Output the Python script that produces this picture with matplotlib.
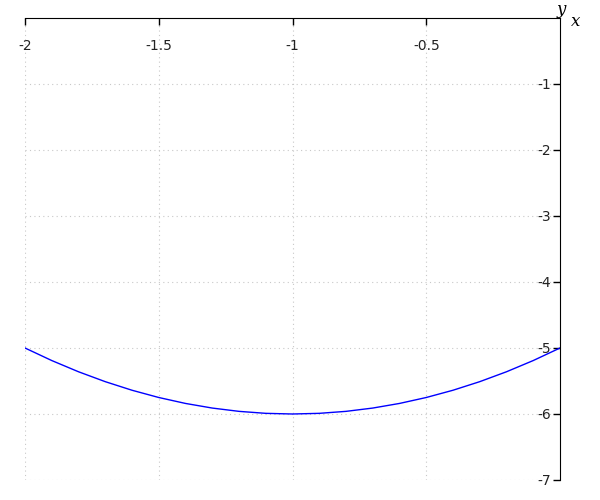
import matplotlib
matplotlib.use("Agg")
import matplotlib.pyplot as plt

xs = [-2.0, -1.9, -1.8, -1.7, -1.6, -1.5, -1.4, -1.3, -1.2, -1.1, -1.0,
      -0.9, -0.8, -0.7, -0.6, -0.5, -0.4, -0.3, -0.2, -0.1, 0.0]
ys = [-5.00, -5.19, -5.36, -5.51, -5.64, -5.75, -5.84, -5.91, -5.96, -5.99, -6.00,
      -5.99, -5.96, -5.91, -5.84, -5.75, -5.64, -5.51, -5.36, -5.19, -5.00]

xticks = [-2, -1.5, -1, -0.5]
xtick_labels = ["-2", "-1.5", "-1", "-0.5"]
yticks = [-1, -2, -3, -4, -5, -6, -7]
ytick_labels = ["-1", "-2", "-3", "-4", "-5", "-6", "-7"]

fig = plt.figure(figsize=(6, 5), dpi=100)
ax = fig.add_axes([25 / 600, 20 / 500, 535 / 600, 462 / 500])

ax.plot(xs, ys, color="blue", lw=1)
ax.set_xlim(-2, 0)
ax.set_ylim(-7, 0)

ax.spines["left"].set_visible(False)
ax.spines["bottom"].set_visible(False)
ax.spines["top"].set_color("black")
ax.spines["right"].set_color("black")

ax.xaxis.tick_top()
ax.yaxis.tick_right()
ax.set_xticks(xticks)
ax.set_xticklabels(xtick_labels)
ax.set_yticks(yticks)
ax.set_yticklabels(ytick_labels)
ax.tick_params(axis="x", direction="in", length=5, width=1, pad=-25.5,
               labelsize=10, colors="black", labelcolor="#222222")
ax.tick_params(axis="y", direction="in", length=5, width=1, pad=-6.5,
               labelsize=10, colors="black", labelcolor="#222222")
for lab in ax.get_yticklabels():
    lab.set_horizontalalignment("right")

ax.grid(True, color="#c8c8c8", linestyle=(0, (1, 3)), linewidth=0.8)
ax.set_axisbelow(True)

fig.text(571 / 600, 1 - 22 / 500, "x", family="DejaVu Serif", style="italic",
         fontsize=12, ha="left", va="center")
fig.text(561 / 600, 1 - 9 / 500, "y", family="DejaVu Serif", style="italic",
         fontsize=12, ha="center", va="center")

fig.savefig("out.png", dpi=100)
